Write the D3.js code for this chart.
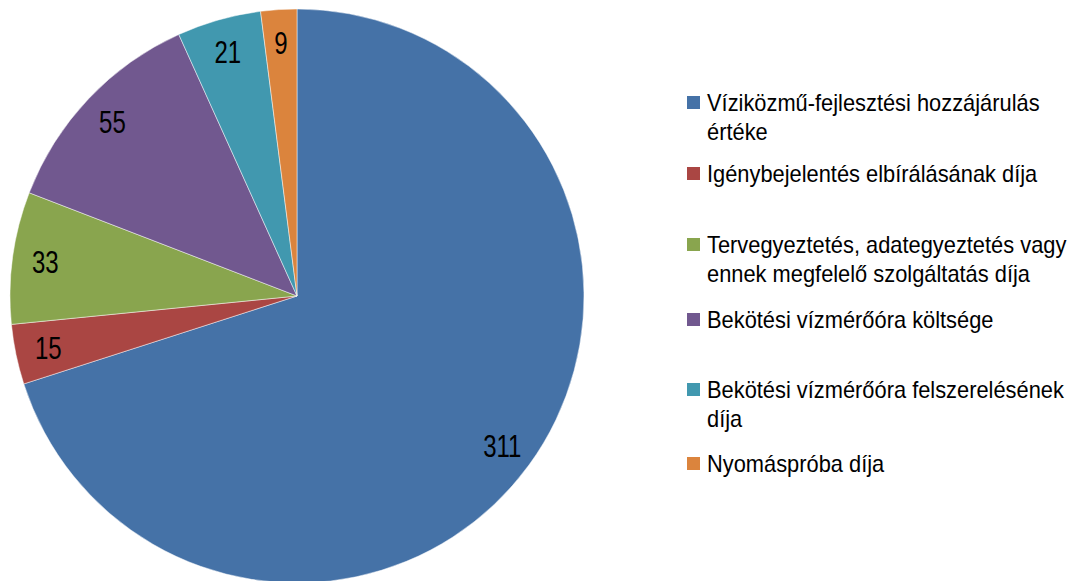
<!DOCTYPE html>
<html lang="hu">
<head>
  <meta charset="UTF-8">
  <title>Pie chart</title>
  <script src="https://d3js.org/d3.v7.min.js"></script>
  <style>
    body { margin: 0; background: #fff; }
    svg text { font-family: "Liberation Sans Narrow", "Arial Narrow", "Liberation Sans", Arial, sans-serif; fill: #000; }
  </style>
</head>
<body>
  <svg width="1070" height="581"></svg>
  <script>
    // data
    const categories = [
      "Víziközmű-fejlesztési hozzájárulás\nértéke",
      "Igénybejelentés elbírálásának díja",
      "Tervegyeztetés, adategyeztetés vagy\nennek megfelelő szolgáltatás díja",
      "Bekötési vízmérőóra költsége",
      "Bekötési vízmérőóra felszerelésének\ndíja",
      "Nyomáspróba díja"
    ];
    const values = [311, 15, 33, 55, 21, 9];
    const colors = ["#4572A7", "#AA4643", "#89A54E", "#71588F", "#4198AF", "#DB843D"];

    const data = categories.map((c, i) => ({ name: c, value: values[i], color: colors[i] }));

    const svg = d3.select("svg");
    const cx = 297, cy = 296, radius = 287;

    const pie = d3.pie().sort(null).value(d => d.value);
    const arc = d3.arc().innerRadius(0).outerRadius(radius);
    const labelArc = d3.arc().innerRadius(radius * 0.885).outerRadius(radius * 0.885);

    const g = svg.append("g").attr("transform", `translate(${cx},${cy})`);

    const slices = g.selectAll("g.slice")
      .data(pie(data))
      .enter().append("g")
      .attr("class", "slice");

    slices.append("path")
      .attr("d", arc)
      .attr("fill", d => d.data.color)
      .attr("stroke", "rgba(255,255,255,0.6)")
      .attr("stroke-width", 0.8);

    // condensed look: squeeze the text horizontally
    slices.append("text")
      .attr("transform", d => `translate(${labelArc.centroid(d)}) scale(0.75,1)`)
      .attr("text-anchor", "middle")
      .attr("dy", "0.36em")
      .style("font-size", "32px")
      .text(d => d.value === undefined ? "" : d.data.value);

    // legend
    const legendY = [103, 174, 245, 320, 390, 464];
    const legend = svg.append("g").attr("class", "legend");
    const items = legend.selectAll("g.item")
      .data(data)
      .enter().append("g")
      .attr("class", "item")
      .attr("transform", (d, i) => `translate(687,${legendY[i]})`);

    items.append("rect")
      .attr("x", 0)
      .attr("y", -7)
      .attr("width", 13)
      .attr("height", 13)
      .attr("fill", d => d.color);

    items.append("text")
      .attr("transform", "translate(20,0) scale(0.95,1)")
      .style("font-size", "23px")
      .selectAll("tspan")
      .data(d => d.name.split("\n"))
      .enter().append("tspan")
      .attr("x", 0)
      .attr("dy", (t, j) => j === 0 ? "0.36em" : "29px")
      .text(t => t);
  </script>
</body>
</html>
